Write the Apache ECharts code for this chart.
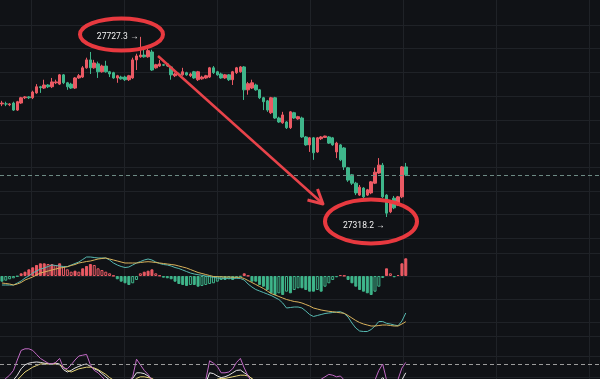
<!DOCTYPE html>
<html>
<head>
<meta charset="utf-8">
<script src="https://cdn.jsdelivr.net/npm/echarts@6/dist/echarts.min.js"></script>
<style>
  html, body { margin: 0; padding: 0; background: #101216; }
  #chart { width: 600px; height: 379px; }
</style>
</head>
<body>
<div id="chart"></div>
<script>
  // K线数据 (open / close / low / high)
  const opens = [27575,27575,27573,27577,27561,27577,27589,27591,27589,27600, 27614,27611,27618,27614,27623,27620,27641,27623,27620,27611,
    27634,27636,27657,27675,27657,27666,27648,27661,27648,27646, 27634,27636,27636,27630,27634,27675,27682,27686,27682,27693,
    27657,27661,27664,27666,27659,27639,27643,27641,27646,27639, 27648,27630,27632,27634,27636,27657,27648,27643,27634,27641,
    27630,27646,27648,27659,27607,27611,27618,27607,27589,27582, 27555,27589,27543,27532,27534,27521,27555,27541,27543,27500,
    27482,27498,27466,27496,27499,27500,27498,27466,27482,27475, 27430,27414,27395,27368,27384,27368,27373,27395,27418,27436,
    27368,27330,27361,27345,27364,27432]
  const closes = [27577,27575,27575,27561,27580,27589,27591,27589,27602,27614, 27612,27618,27614,27625,27625,27641,27623,27614,27611,27634,
    27639,27657,27675,27657,27668,27648,27661,27648,27643,27634, 27639,27632,27630,27639,27675,27684,27686,27682,27696,27652,
    27664,27666,27663,27661,27641,27643,27642,27648,27641,27643, 27634,27648,27636,27639,27657,27646,27641,27634,27641,27630,
    27648,27657,27659,27607,27621,27623,27607,27589,27580,27561, 27589,27543,27534,27550,27521,27557,27543,27546,27500,27482,
    27498,27464,27498,27500,27502,27486,27482,27486,27448,27432, 27402,27395,27373,27386,27364,27380,27398,27420,27436,27364,
    27327,27350,27339,27364,27432,27414]
  const lows = [27570,27570,27570,27559,27559,27575,27586,27586,27586,27598, 27600,27609,27611,27611,27620,27618,27620,27607,27609,27609,
    27632,27634,27655,27643,27655,27634,27646,27646,27636,27632, 27623,27630,27627,27627,27632,27652,27680,27680,27680,27650,
    27655,27659,27661,27659,27630,27636,27641,27639,27639,27636, 27632,27627,27630,27632,27634,27643,27639,27632,27632,27627,
    27618,27643,27646,27584,27596,27609,27605,27586,27561,27557, 27552,27541,27532,27530,27518,27518,27541,27539,27498,27480,
    27466,27448,27464,27493,27498,27484,27480,27452,27445,27425, 27398,27391,27368,27366,27361,27366,27370,27393,27416,27361,
    27318.2,27327,27336,27343,27361,27411]
  const highs = [27582,27580,27577,27580,27582,27591,27593,27593,27605,27620, 27616,27630,27620,27634,27630,27643,27643,27625,27623,27636,
    27643,27661,27680,27693,27675,27671,27664,27673,27650,27648, 27641,27639,27639,27641,27680,27689,27727.3,27698,27705,27698,
    27666,27675,27666,27668,27661,27646,27646,27657,27648,27646, 27650,27650,27639,27641,27659,27661,27650,27646,27643,27643,
    27650,27659,27661,27661,27625,27630,27621,27609,27591,27584, 27591,27591,27546,27557,27536,27559,27557,27548,27546,27502,
    27500,27500,27500,27502,27503,27502,27500,27489,27484,27477, 27432,27416,27398,27391,27386,27382,27400,27430,27452,27441,
    27370,27357,27366,27366,27434,27441]

  // MACD 柱 / DIF / DEA
  const macdHist = [-5.7,-4.7,-3.3,-2.3,-0.5,2.7,4.3,6.7,8.7,11, 12.7,12.7,12,12,11,12.7,9.3,6.7,4.3,5.3,
    4.3,7.7,10,12,11,7.7,6,4.3,2.7,0.3, -3.3,-5.7,-7.3,-9,-7.3,-4,2.7,4.3,5.3,6.7,
    2.7,0.5,-1.7,-2.3,-3.3,-5.7,-8,-9,-10,-9, -9,-10.7,-10,-9,-8,-7.3,-5.7,-4,-4,-3.3,
    -4,-2.3,-0.7,2.7,0.3,-5.7,-5.7,-9,-10.7,-14, -17.3,-19,-17.3,-19,-15.7,-17.3,-14,-12.3,-12.3,-14,
    -15.7,-15.7,-14,-15.7,-10.7,-7.3,-4,-1.3,1,0.3, -4,-7.3,-10.7,-14,-15.7,-17.3,-19,-15.7,-10.7,-2,
    7.7,2.7,-1.3,1,12.7,17.7]
  const dif = [-9,-9,-9,-9,-7,-5,-2,0,3,5, 7,8,9.5,11,10.5,10,9.5,9.3,11,12.5,
    14,16.5,19,19,18.5,18,18,18,16,13, 11,9.5,8.5,9,11,13,14.5,16,17,16,
    14,12.5,11.5,11,10,8.5,7.5,6,4.5,3, 2,1.3,0.7,0,-0.7,-1.3,-2,-2.3,-2.3,-2.3,
    -2.3,-2.3,-2.5,-4,-8,-11,-13.5,-15,-16.5,-18, -19.5,-21.5,-23.5,-27,-32,-31.5,-31,-31,-32,-35,
    -38.5,-40.5,-39.5,-38.5,-37.5,-37,-36.5,-36,-35.7,-37.5, -41,-47,-52,-55,-55.5,-55.5,-53.5,-50,-45.5,-45.5,
    -47.3,-48,-49,-49.7,-45,-37]
  const dea = [-7,-7.5,-8,-9,-8,-6.5,-4,-2.5,-1,1, 3,4,5,6,7,8,8.5,9.3,10.5,11.5,
    13,13.7,14.5,15,16,17,17.5,18,17,16, 15,14,13,13,13,13,13.5,14,14.3,14,
    13.5,13,12.5,12,11.5,11,10,9,8,6.5, 5,3.5,2.5,1.5,0.5,-0.5,-0.7,-0.8,-1,-1,
    -1.2,-1.3,-1.3,-2.5,-4.5,-6.5,-8.5,-10.5,-12.5,-15, -17.5,-19,-20.5,-22,-23.5,-24.5,-25.5,-26,-27,-28.5,
    -30,-32,-33,-34,-34.7,-35.3,-35.7,-36.3,-36.8,-37.3, -39.5,-42,-44.5,-46.5,-48,-49,-50,-50,-49.5,-49,
    -49,-49.5,-50,-50,-48,-45.7]

  // KDJ
  const kLine = [48,52,56,60,66,74,79,81,82,82.5, 82,81,80.5,80,81,80,73,70,72,75,
    77,79,80,77,74,72,68,64,60,57, 54,52,53,56,62,69,69,68,65,61,
    57,52,48,44,40,38,36,36,37,38, 40,43,48,56,69,68,65,63,64,66,
    69,72,72.5,69,66,61,55,48,42,36, 31,27,26,25,26,27,30,31,30,28,
    27,29,35,45,50,54,56,57,57,55, 50,45,40,36,35,37,42,50,58,63,
    57,54,53,54,60,69]
  const dLine = [45,48,51,55,60,65,70,73,76,78, 80,80,80,80,80,79,76,72,70,72,
    74,75,76,76,75,73,70,67,63,60, 57,55,54,55,58,62,64,64,63,62,
    59,56,53,50,47,44,42,40,39,39, 39,40,43,47,55,59,61,62,62,63,
    64,65,66,66,65,62,58,54,49,44, 39,35,32,30,29,28,28,29,29,29,
    28,28,31,36,41,45,49,51,53,53, 52,50,46,43,40,39,40,43,48,53,
    54,54,54,54,55,59]
  const jLine = [58,62,66,72,85,97,99,99,97,92, 87,84,81,80,82,87,75,74,79,85,
    90,91,92,79,72,69,64,59,54,50, 47,45,50,58,64,86,79,72,67,60,
    52,45,40,36,32,30,28,30,33,35, 38,42,50,60,84,81,77,69,69,70,
    74,82,87,75,65,57,48,40,32,25, 20,18,20,18,22,25,30,32,28,24,
    22,26,40,61,64,67,66,64,65,60, 50,40,30,25,28,35,45,60,72,80,
    60,56,57,61,75,82]

  const UP = '#eb5a64'
  const DOWN = '#3fb68b'
  const GRID_LINE = '#1f2227'

  // x轴的格子数（右侧留空）
  let slots = []
  for (let i = 0; i < 156; i++) slots.push(String(i))

  let candleData = opens.map((o, i) => [o, closes[i], lows[i], highs[i]])

  // MACD柱：放大为实心，缩小为空心
  let histData = macdHist.map((v, i) => {
    let prev = i > 0 ? Math.abs(macdHist[i - 1]) : 0
    let col = v >= 0 ? UP : DOWN
    let solid = Math.abs(v) >= prev
    return {
      value: v,
      itemStyle: { color: solid ? col : 'rgba(0,0,0,0)', borderColor: col, borderWidth: 1 }
    }
  })

  function hiddenCat(idx) {
    return { type: 'category', gridIndex: idx, data: slots, show: false, boundaryGap: true }
  }
  function hiddenVal(idx, min, max) {
    return { type: 'value', gridIndex: idx, min: min, max: max, show: false }
  }
  function lineVal(idx, min, max, interval) {
    return {
      type: 'value', gridIndex: idx, min: min, max: max, interval: interval,
      axisLine: { show: false }, axisTick: { show: false }, axisLabel: { show: false },
      splitLine: { show: true, lineStyle: { color: GRID_LINE, width: 1 } }
    }
  }

  let chart = echarts.init(document.getElementById('chart'))
  let option = {
    backgroundColor: '#101216',
    animation: false,
    grid: [
      { left: 0, right: 0, top: 0, height: 240 },   // K线
      { left: 0, right: 0, top: 240, height: 100 }, // MACD
      { left: 0, right: 0, top: 348, bottom: 0 },   // KDJ（下半截在画面外）
      { left: 31, right: 0, top: 0, bottom: 0 },    // 竖网格线
      { left: 0, right: 0, top: 25, height: 213.3 },
      { left: 0, right: 0, top: 253, height: 69 },
      { left: 0, right: 0, top: 336, height: 41 }
    ],
    xAxis: [
      hiddenCat(0), hiddenCat(1), hiddenCat(2),
      lineVal(3, 0, 569, 93),
      hiddenVal(4, 0, 1), hiddenVal(5, 0, 1), hiddenVal(6, 0, 1)
    ],
    yAxis: [
      hiddenVal(0, 27266, 27811),
      hiddenVal(1, -64, 36),
      hiddenVal(2, 61.25, 100),
      hiddenVal(3, 0, 1),
      lineVal(4, 0, 213.3, 23.7),
      lineVal(5, 0, 69, 23),
      lineVal(6, 0, 41, 20.5)
    ],
    series: [
      {
        type: 'candlestick',
        xAxisIndex: 0,
        yAxisIndex: 0,
        data: candleData,
        barWidth: 3,
        itemStyle: { color: UP, color0: DOWN, borderColor: UP, borderColor0: DOWN, borderWidth: 1 },
        markLine: {
          silent: true,
          symbol: ['none', 'none'],
          label: { show: false },
          lineStyle: { type: [4, 3], color: '#6d8a84', width: 1 },
          data: [{ yAxis: closes[closes.length - 1] }]
        },
        markPoint: {
          symbol: 'circle',
          symbolSize: 0,
          label: {
            show: true,
            position: 'left',
            distance: 2,
            color: '#f2f2f2',
            fontSize: 8.5,
            fontFamily: 'Roboto',
            formatter: p => p.value.toFixed(1) + ' →'
          },
          data: [
            { type: 'max', valueDim: 'highest' },
            { type: 'min', valueDim: 'lowest', label: { offset: [0, 9] } }
          ]
        }
      },
      {
        type: 'bar',
        xAxisIndex: 1,
        yAxisIndex: 1,
        data: histData,
        barWidth: 3
      },
      {
        name: 'DIF', type: 'line', xAxisIndex: 1, yAxisIndex: 1, data: dif,
        symbol: 'none', lineStyle: { color: '#56b8b0', width: 1 }
      },
      {
        name: 'DEA', type: 'line', xAxisIndex: 1, yAxisIndex: 1, data: dea,
        symbol: 'none', lineStyle: { color: '#d9b25c', width: 1 }
      },
      {
        name: 'K', type: 'line', xAxisIndex: 2, yAxisIndex: 2, data: kLine,
        symbol: 'none', lineStyle: { color: '#e6e6e6', width: 1 },
        markLine: {
          silent: true,
          symbol: ['none', 'none'],
          label: { show: false },
          lineStyle: { type: [4, 3], color: '#9c9c9c', width: 1 },
          data: [{ yAxis: 80 }]
        }
      },
      {
        name: 'D', type: 'line', xAxisIndex: 2, yAxisIndex: 2, data: dLine,
        symbol: 'none', lineStyle: { color: '#e8d77a', width: 1 }
      },
      {
        name: 'J', type: 'line', xAxisIndex: 2, yAxisIndex: 2, data: jLine,
        symbol: 'none', lineStyle: { color: '#c36bc6', width: 1 }
      }
    ],
    // 手绘标注：红圈和箭头
    graphic: [
      { type: 'ellipse', z: 100, shape: { cx: 121.5, cy: 34.5, rx: 41.5, ry: 16 },
        style: { fill: 'none', stroke: '#e8393f', lineWidth: 4 } },
      { type: 'ellipse', z: 100, shape: { cx: 371, cy: 221.5, rx: 46, ry: 22 },
        style: { fill: 'none', stroke: '#e8393f', lineWidth: 4 } },
      { type: 'line', z: 100, shape: { x1: 158, y1: 56, x2: 322, y2: 203 },
        style: { stroke: '#e8434a', lineWidth: 2.5 } },
      { type: 'polyline', z: 100, shape: { points: [[307.5, 200], [323, 204], [317.5, 189]] },
        style: { fill: 'none', stroke: '#e8434a', lineWidth: 3, lineJoin: 'round' } }
    ]
  }
  chart.setOption(option)
</script>
</body>
</html>
